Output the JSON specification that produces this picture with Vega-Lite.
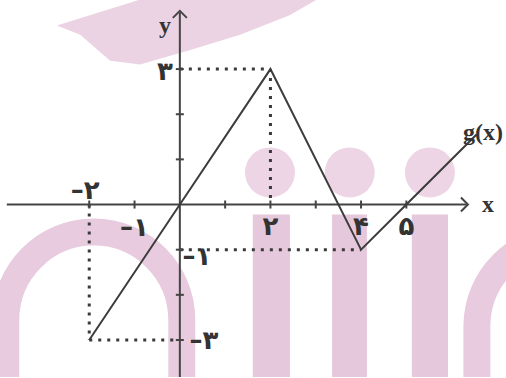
{
  "$schema": "https://vega.github.io/schema/vega-lite/v6.json",
  "width": 506,
  "height": 378,
  "padding": 0,
  "autosize": {"type": "fit", "contains": "padding"},
  "background": "white",
  "config": {"view": {"stroke": null}},
  "layer": [
    {
      "data": {"values": [{}]},
      "mark": {"type": "point", "shape": "M-1,-0.05L-0.36,-0.25L1,-0.25L0.79,-0.13L0.41,0.02L0.02,0.14L-0.36,0.25L-0.59,0.22L-0.82,0.02Z", "filled": true, "color": "#ecd3e4", "opacity": 1, "size": 67600, "clip": true, "strokeWidth": 0},
      "encoding": {
        "x": {"datum": 0.155, "type": "quantitative", "scale": {"domain": [-3.97, 7.2], "nice": false, "zero": false}, "axis": null},
        "y": {"datum": 3.82, "type": "quantitative", "scale": {"domain": [-3.82, 4.53], "nice": false, "zero": false}, "axis": null}
      }
    },
    {
      "data": {"values": [{}]},
      "mark": {"type": "point", "shape": "M-1,1L-1,0A1,1,0,0,1,1,0L1,1", "filled": false, "color": "#e8cbde", "stroke": "#e8cbde", "strokeWidth": 27, "size": 30976, "clip": true, "opacity": 1},
      "encoding": {
        "x": {"datum": -1.9, "type": "quantitative", "scale": {"domain": [-3.97, 7.2], "nice": false, "zero": false}, "axis": null},
        "y": {"datum": -2.56, "type": "quantitative", "scale": {"domain": [-3.82, 4.53], "nice": false, "zero": false}, "axis": null}
      }
    },
    {
      "data": {"values": [{}]},
      "mark": {"type": "point", "shape": "M-1,1L-1,0A1,1,0,0,1,1,0L1,1", "filled": false, "color": "#e8cbde", "stroke": "#e8cbde", "strokeWidth": 27, "size": 30976, "clip": true, "opacity": 1},
      "encoding": {
        "x": {"datum": 8.5, "type": "quantitative", "scale": {"domain": [-3.97, 7.2], "nice": false, "zero": false}, "axis": null},
        "y": {"datum": -2.7, "type": "quantitative", "scale": {"domain": [-3.82, 4.53], "nice": false, "zero": false}, "axis": null}
      }
    },
    {
      "data": {"values": [{}]},
      "mark": {"type": "rect", "color": "#e6c8dc", "clip": true},
      "encoding": {
        "x": {"datum": 1.61, "type": "quantitative", "scale": {"domain": [-3.97, 7.2], "nice": false, "zero": false}, "axis": null},
        "x2": {"datum": 2.43},
        "y": {"datum": -0.22, "type": "quantitative", "scale": {"domain": [-3.82, 4.53], "nice": false, "zero": false}, "axis": null},
        "y2": {"datum": -3.82}
      }
    },
    {
      "data": {"values": [{}]},
      "mark": {"type": "rect", "color": "#e6c8dc", "clip": true},
      "encoding": {
        "x": {"datum": 3.36, "type": "quantitative", "scale": {"domain": [-3.97, 7.2], "nice": false, "zero": false}, "axis": null},
        "x2": {"datum": 4.13},
        "y": {"datum": -0.22, "type": "quantitative", "scale": {"domain": [-3.82, 4.53], "nice": false, "zero": false}, "axis": null},
        "y2": {"datum": -3.82}
      }
    },
    {
      "data": {"values": [{}]},
      "mark": {"type": "rect", "color": "#e6c8dc", "clip": true},
      "encoding": {
        "x": {"datum": 5.12, "type": "quantitative", "scale": {"domain": [-3.97, 7.2], "nice": false, "zero": false}, "axis": null},
        "x2": {"datum": 5.92},
        "y": {"datum": -0.22, "type": "quantitative", "scale": {"domain": [-3.82, 4.53], "nice": false, "zero": false}, "axis": null},
        "y2": {"datum": -3.82}
      }
    },
    {
      "data": {"values": [{}]},
      "mark": {"type": "point", "shape": "circle", "filled": true, "color": "#edd5e5", "opacity": 1, "size": 2500, "clip": true},
      "encoding": {
        "x": {"datum": 1.99, "type": "quantitative", "scale": {"domain": [-3.97, 7.2], "nice": false, "zero": false}, "axis": null},
        "y": {"datum": 0.71, "type": "quantitative", "scale": {"domain": [-3.82, 4.53], "nice": false, "zero": false}, "axis": null}
      }
    },
    {
      "data": {"values": [{}]},
      "mark": {"type": "point", "shape": "circle", "filled": true, "color": "#edd5e5", "opacity": 1, "size": 2500, "clip": true},
      "encoding": {
        "x": {"datum": 3.75, "type": "quantitative", "scale": {"domain": [-3.97, 7.2], "nice": false, "zero": false}, "axis": null},
        "y": {"datum": 0.71, "type": "quantitative", "scale": {"domain": [-3.82, 4.53], "nice": false, "zero": false}, "axis": null}
      }
    },
    {
      "data": {"values": [{}]},
      "mark": {"type": "point", "shape": "circle", "filled": true, "color": "#edd5e5", "opacity": 1, "size": 2500, "clip": true},
      "encoding": {
        "x": {"datum": 5.52, "type": "quantitative", "scale": {"domain": [-3.97, 7.2], "nice": false, "zero": false}, "axis": null},
        "y": {"datum": 0.71, "type": "quantitative", "scale": {"domain": [-3.82, 4.53], "nice": false, "zero": false}, "axis": null}
      }
    },
    {
      "data": {"values": [
        {"x1": 0, "y1": 3, "x2": 2, "y2": 3},
        {"x1": 2, "y1": 3, "x2": 2, "y2": 0},
        {"x1": 0, "y1": -1, "x2": 4, "y2": -1},
        {"x1": -2, "y1": 0, "x2": -2, "y2": -3},
        {"x1": -2, "y1": -3, "x2": 0, "y2": -3}
      ]},
      "mark": {"type": "rule", "color": "#3a3a3a", "strokeWidth": 3, "strokeDash": [3, 6], "strokeCap": "butt"},
      "encoding": {
        "x": {"field": "x1", "type": "quantitative", "scale": {"domain": [-3.97, 7.2], "nice": false, "zero": false}, "axis": null},
        "x2": {"field": "x2"},
        "y": {"field": "y1", "type": "quantitative", "scale": {"domain": [-3.82, 4.53], "nice": false, "zero": false}, "axis": null},
        "y2": {"field": "y2"}
      }
    },
    {
      "data": {"values": [
        {"x1": -3.82, "y1": 0, "x2": 6.33, "y2": 0},
        {"x1": 0, "y1": -3.82, "x2": 0, "y2": 4.26}
      ]},
      "mark": {"type": "rule", "color": "#444444", "strokeWidth": 2},
      "encoding": {
        "x": {"field": "x1", "type": "quantitative", "scale": {"domain": [-3.97, 7.2], "nice": false, "zero": false}, "axis": null},
        "x2": {"field": "x2"},
        "y": {"field": "y1", "type": "quantitative", "scale": {"domain": [-3.82, 4.53], "nice": false, "zero": false}, "axis": null},
        "y2": {"field": "y2"}
      }
    },
    {
      "data": {"values": [{}]},
      "mark": {"type": "point", "shape": "M-1,-1L0,0L-1,1", "filled": false, "color": "#444444", "strokeWidth": 2, "size": 196, "opacity": 1},
      "encoding": {
        "x": {"datum": 6.36, "type": "quantitative", "scale": {"domain": [-3.97, 7.2], "nice": false, "zero": false}, "axis": null},
        "y": {"datum": 0, "type": "quantitative", "scale": {"domain": [-3.82, 4.53], "nice": false, "zero": false}, "axis": null}
      }
    },
    {
      "data": {"values": [{}]},
      "mark": {"type": "point", "shape": "M-1,1L0,0L1,1", "filled": false, "color": "#444444", "strokeWidth": 2, "size": 196, "opacity": 1},
      "encoding": {
        "x": {"datum": 0, "type": "quantitative", "scale": {"domain": [-3.97, 7.2], "nice": false, "zero": false}, "axis": null},
        "y": {"datum": 4.29, "type": "quantitative", "scale": {"domain": [-3.82, 4.53], "nice": false, "zero": false}, "axis": null}
      }
    },
    {
      "data": {"values": [{"v": -2}, {"v": -1}, {"v": 1}, {"v": 2}, {"v": 3}, {"v": 4}, {"v": 5}]},
      "mark": {"type": "point", "shape": "M0,-1L0,1", "filled": false, "color": "#444444", "strokeWidth": 2, "size": 64, "opacity": 1},
      "encoding": {
        "x": {"field": "v", "type": "quantitative", "scale": {"domain": [-3.97, 7.2], "nice": false, "zero": false}, "axis": null},
        "y": {"datum": 0, "type": "quantitative", "scale": {"domain": [-3.82, 4.53], "nice": false, "zero": false}, "axis": null}
      }
    },
    {
      "data": {"values": [{"v": -3}, {"v": -2}, {"v": -1}, {"v": 1}, {"v": 2}, {"v": 3}]},
      "mark": {"type": "point", "shape": "M-1,0L1,0", "filled": false, "color": "#444444", "strokeWidth": 2, "size": 64, "opacity": 1},
      "encoding": {
        "x": {"datum": 0, "type": "quantitative", "scale": {"domain": [-3.97, 7.2], "nice": false, "zero": false}, "axis": null},
        "y": {"field": "v", "type": "quantitative", "scale": {"domain": [-3.82, 4.53], "nice": false, "zero": false}, "axis": null}
      }
    },
    {
      "data": {"values": [
        {"x": -2, "g": -3},
        {"x": 0, "g": 0},
        {"x": 2, "g": 3},
        {"x": 4, "g": -1},
        {"x": 5, "g": 0},
        {"x": 6.55, "g": 1.55}
      ]},
      "mark": {"type": "line", "color": "#3c3c3c", "strokeWidth": 2},
      "encoding": {
        "x": {"field": "x", "type": "quantitative", "scale": {"domain": [-3.97, 7.2], "nice": false, "zero": false}, "axis": null},
        "y": {"field": "g", "type": "quantitative", "scale": {"domain": [-3.82, 4.53], "nice": false, "zero": false}, "axis": null},
        "order": {"field": "x"}
      }
    },
    {
      "data": {"values": [{"v": 2, "t": "۲"}, {"v": 4, "t": "۴"}, {"v": 5, "t": "۵"}]},
      "mark": {"type": "text", "font": "DejaVu Sans", "fontWeight": "bold", "fontSize": 26, "color": "#333333", "align": "center", "baseline": "alphabetic", "dy": 30},
      "encoding": {
        "x": {"field": "v", "type": "quantitative", "scale": {"domain": [-3.97, 7.2], "nice": false, "zero": false}, "axis": null},
        "y": {"datum": 0, "type": "quantitative", "scale": {"domain": [-3.82, 4.53], "nice": false, "zero": false}, "axis": null},
        "text": {"field": "t"}
      }
    },
    {
      "data": {"values": [{"v": -1, "t": "–۱"}]},
      "mark": {"type": "text", "font": "DejaVu Sans", "fontWeight": "bold", "fontSize": 26, "color": "#333333", "align": "center", "baseline": "alphabetic", "dy": 31},
      "encoding": {
        "x": {"field": "v", "type": "quantitative", "scale": {"domain": [-3.97, 7.2], "nice": false, "zero": false}, "axis": null},
        "y": {"datum": 0, "type": "quantitative", "scale": {"domain": [-3.82, 4.53], "nice": false, "zero": false}, "axis": null},
        "text": {"field": "t"}
      }
    },
    {
      "data": {"values": [{"v": -2, "t": "–۲"}]},
      "mark": {"type": "text", "font": "DejaVu Sans", "fontWeight": "bold", "fontSize": 26, "color": "#333333", "align": "center", "baseline": "alphabetic", "dy": -6, "dx": -4},
      "encoding": {
        "x": {"field": "v", "type": "quantitative", "scale": {"domain": [-3.97, 7.2], "nice": false, "zero": false}, "axis": null},
        "y": {"datum": 0, "type": "quantitative", "scale": {"domain": [-3.82, 4.53], "nice": false, "zero": false}, "axis": null},
        "text": {"field": "t"}
      }
    },
    {
      "data": {"values": [{"v": 3, "t": "۳"}]},
      "mark": {"type": "text", "font": "DejaVu Sans", "fontWeight": "bold", "fontSize": 26, "color": "#333333", "align": "center", "baseline": "alphabetic", "dx": -15, "dy": 11},
      "encoding": {
        "x": {"datum": 0, "type": "quantitative", "scale": {"domain": [-3.97, 7.2], "nice": false, "zero": false}, "axis": null},
        "y": {"field": "v", "type": "quantitative", "scale": {"domain": [-3.82, 4.53], "nice": false, "zero": false}, "axis": null},
        "text": {"field": "t"}
      }
    },
    {
      "data": {"values": [{"v": -1, "t": "–۱"}]},
      "mark": {"type": "text", "font": "DejaVu Sans", "fontWeight": "bold", "fontSize": 26, "color": "#333333", "align": "center", "baseline": "alphabetic", "dx": 17, "dy": 15},
      "encoding": {
        "x": {"datum": 0, "type": "quantitative", "scale": {"domain": [-3.97, 7.2], "nice": false, "zero": false}, "axis": null},
        "y": {"field": "v", "type": "quantitative", "scale": {"domain": [-3.82, 4.53], "nice": false, "zero": false}, "axis": null},
        "text": {"field": "t"}
      }
    },
    {
      "data": {"values": [{"v": -3, "t": "–۳"}]},
      "mark": {"type": "text", "font": "DejaVu Sans", "fontWeight": "bold", "fontSize": 26, "color": "#333333", "align": "center", "baseline": "alphabetic", "dx": 24, "dy": 9},
      "encoding": {
        "x": {"datum": 0, "type": "quantitative", "scale": {"domain": [-3.97, 7.2], "nice": false, "zero": false}, "axis": null},
        "y": {"field": "v", "type": "quantitative", "scale": {"domain": [-3.82, 4.53], "nice": false, "zero": false}, "axis": null},
        "text": {"field": "t"}
      }
    },
    {
      "data": {"values": [{"px": 6.8, "py": 0, "t": "x"}, {"px": -0.33, "py": 3.95, "t": "y"}, {"px": 6.69, "py": 1.59, "t": "g(x)"}]},
      "mark": {"type": "text", "font": "Liberation Serif", "fontWeight": "bold", "fontSize": 24, "color": "#333333", "align": "center", "baseline": "alphabetic", "dy": 7},
      "encoding": {
        "x": {"field": "px", "type": "quantitative", "scale": {"domain": [-3.97, 7.2], "nice": false, "zero": false}, "axis": null},
        "y": {"field": "py", "type": "quantitative", "scale": {"domain": [-3.82, 4.53], "nice": false, "zero": false}, "axis": null},
        "text": {"field": "t"}
      }
    }
  ]
}
